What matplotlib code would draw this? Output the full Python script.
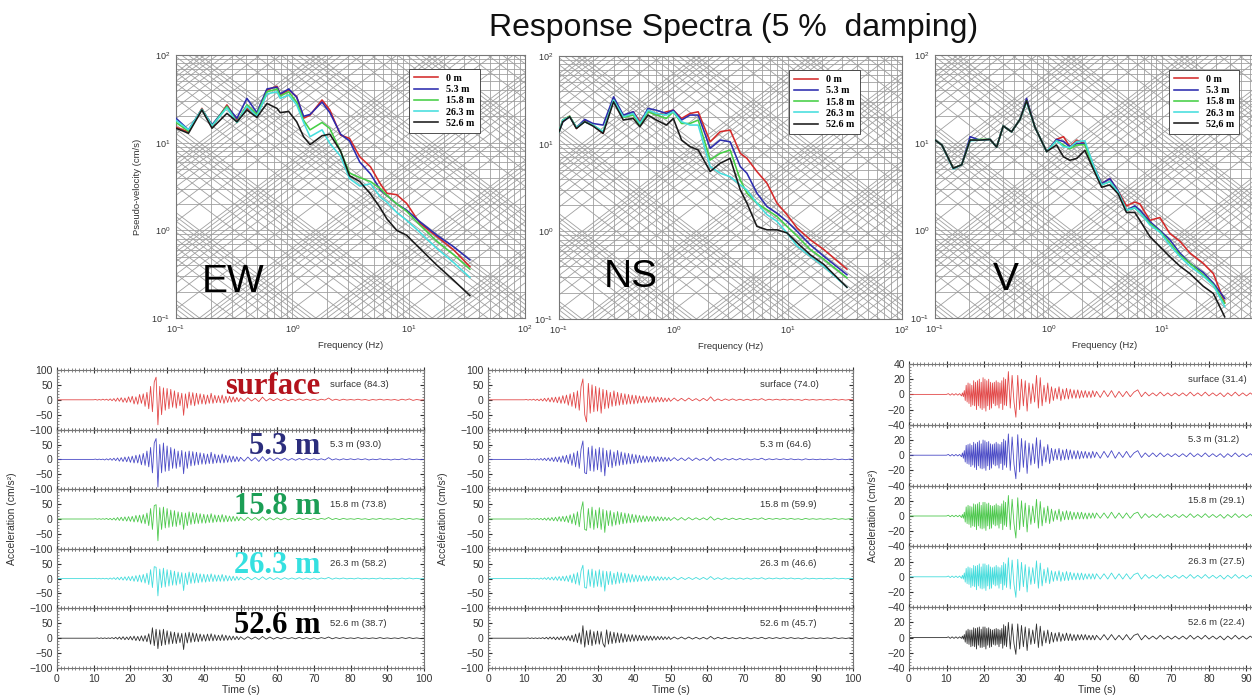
import numpy as np
import matplotlib
matplotlib.use('Agg')
import matplotlib.pyplot as plt
from matplotlib.collections import LineCollection
from matplotlib.ticker import MultipleLocator, FixedLocator, NullLocator, LogLocator

plt.rcParams['font.family'] = ['Liberation Sans', 'DejaVu Sans']

# ---------------- data: response spectra ----------------
depth_labels = ['0 m', '5.3 m', '15.8 m', '26.3 m', '52.6 m']
depth_labels_v = ['0 m', '5.3 m', '15.8 m', '26.3 m', '52,6 m']

ew_freq = [0.1, 0.128, 0.167, 0.204, 0.274, 0.334, 0.407, 0.496, 0.605, 0.738, 0.787, 0.93,
           1.09, 1.25, 1.42, 1.8, 2.1, 2.6, 3.1, 3.8, 4.7, 5.7, 6.5, 7.9, 9.6, 12.5, 17.5, 24.3, 33.6]
ew_psv_0 = [15.0, 13.3, 24.6, 15.0, 27.0, 18.0, 24.6, 21.0, 40.0, 44.0, 35.0, 40.0, 33.5, 19.0, 20.6,
            30.7, 23.6, 12.2, 11.2, 6.9, 5.3, 3.4, 2.65, 2.55, 2.03, 1.2, 0.85, 0.6, 0.385]
ew_psv_5 = [19.0, 14.0, 24.0, 16.0, 26.0, 19.0, 32.0, 22.0, 41.0, 43.0, 36.0, 41.0, 33.0, 20.0, 21.0,
            29.0, 22.0, 12.5, 10.5, 6.0, 4.4, 2.9, 2.5, 2.0, 1.7, 1.25, 0.88, 0.65, 0.46]
ew_psv_15 = [17.0, 13.5, 24.0, 15.5, 26.0, 17.0, 27.0, 21.0, 38.0, 41.0, 34.0, 38.0, 29.0, 18.0, 14.0,
             17.0, 14.5, 8.0, 4.5, 4.0, 3.6, 3.0, 2.5, 2.0, 1.65, 1.15, 0.75, 0.53, 0.36]
ew_psv_26 = [18.0, 14.0, 24.0, 15.5, 25.0, 17.0, 26.0, 20.0, 36.0, 38.0, 32.0, 35.0, 27.0, 17.0, 11.7,
             14.0, 9.8, 7.0, 3.9, 3.2, 3.4, 2.4, 2.1, 1.6, 1.3, 0.95, 0.62, 0.43, 0.29]
ew_psv_52 = [14.6, 12.8, 23.6, 14.6, 21.6, 17.3, 23.6, 19.4, 28.0, 24.6, 22.0, 22.7, 17.3, 11.7, 9.5,
             12.0, 12.5, 8.0, 4.2, 3.6, 2.6, 1.8, 1.35, 1.0, 0.88, 0.62, 0.40, 0.27, 0.18]

ns_freq = [0.1, 0.108, 0.124, 0.142, 0.168, 0.198, 0.243, 0.30, 0.365, 0.446, 0.51, 0.60, 0.71, 0.87,
           1.0, 1.18, 1.40, 1.65, 2.1, 2.57, 3.14, 3.85, 4.4, 5.38, 6.59, 8.06, 9.86, 12.1, 15.8, 20.7, 33.0]
ns_psv_0 = [13.7, 18.6, 20.6, 14.9, 18.6, 16.3, 13.1, 32.8, 20.3, 23.1, 17.8, 24.1, 21.2, 23.1, 24.1,
            19.4, 22.1, 23.1, 10.5, 13.7, 14.3, 7.76, 6.8, 4.81, 3.54, 2.1, 1.55, 1.09, 0.80, 0.62, 0.37]
ns_psv_5 = [13.7, 17.8, 20.3, 15.3, 18.9, 17.0, 16.3, 34.2, 21.2, 23.1, 17.0, 25.2, 24.1, 22.1, 24.1,
            18.6, 21.2, 21.2, 8.85, 11.0, 10.5, 5.48, 4.6, 2.73, 1.92, 1.61, 1.3, 1.0, 0.70, 0.52, 0.32]
ns_psv_15 = [13.7, 18.6, 20.6, 15.3, 17.8, 16.3, 13.7, 31.4, 19.9, 21.2, 16.3, 23.1, 21.2, 19.4, 23.1,
             17.0, 17.0, 18.6, 6.5, 7.76, 8.47, 3.86, 2.73, 2.1, 1.76, 1.48, 1.14, 0.88, 0.62, 0.48, 0.295]
ns_psv_26 = [13.7, 18.6, 20.3, 15.3, 17.8, 16.3, 13.7, 31.4, 20.3, 22.1, 17.0, 24.1, 22.1, 21.2, 23.1,
             17.8, 16.3, 16.3, 5.48, 4.6, 4.2, 3.39, 2.97, 2.1, 1.55, 1.3, 0.96, 0.68, 0.52, 0.40, 0.23]
ns_psv_52 = [13.7, 17.8, 20.3, 14.9, 17.8, 15.9, 13.1, 30.0, 18.6, 19.4, 15.6, 21.2, 18.6, 16.3, 19.4,
             11.0, 9.25, 8.47, 4.81, 5.98, 6.8, 2.97, 2.1, 1.14, 1.04, 1.04, 0.96, 0.74, 0.54, 0.42, 0.23]

v_freq = [0.1, 0.115, 0.145, 0.172, 0.204, 0.249, 0.306, 0.35, 0.40, 0.474, 0.563, 0.643, 0.762, 0.967,
          1.18, 1.36, 1.55, 1.78, 2.1, 2.49, 2.95, 3.49, 4.13, 4.89, 5.79, 6.42, 7.87, 9.65, 11.8, 14.5,
          17.8, 23.3, 28.6, 36.0]
v_psv_0 = [10.7, 9.4, 5.1, 5.6, 10.7, 10.7, 10.9, 8.9, 15.5, 13.3, 18.5, 31.2, 15.0, 7.9, 10.9, 11.7,
           9.0, 10.7, 9.8, 5.5, 3.4, 3.9, 2.8, 1.9, 2.1, 2.0, 1.3, 1.4, 0.92, 0.75, 0.55, 0.42, 0.32, 0.15]
v_psv_5 = [10.7, 9.4, 5.1, 5.6, 11.7, 10.7, 10.9, 8.9, 15.5, 13.3, 18.5, 32.0, 15.0, 7.9, 10.9, 10.3,
           9.0, 9.8, 9.8, 5.5, 3.4, 3.9, 2.8, 1.7, 1.9, 1.7, 1.26, 1.0, 0.78, 0.55, 0.42, 0.33, 0.25, 0.167]
v_psv_15 = [10.7, 9.4, 5.1, 5.6, 10.7, 10.9, 10.9, 8.9, 15.5, 13.3, 18.5, 30.0, 15.0, 7.9, 10.5, 9.4,
            8.5, 9.4, 9.5, 5.3, 3.3, 3.6, 2.7, 1.7, 1.8, 1.6, 1.2, 0.97, 0.72, 0.52, 0.42, 0.31, 0.24, 0.147]
v_psv_26 = [10.7, 9.4, 5.0, 5.6, 10.5, 10.7, 10.9, 8.9, 15.5, 13.3, 18.5, 29.0, 15.0, 7.9, 10.5, 9.0,
            8.8, 10.3, 10.5, 5.6, 3.3, 3.6, 2.7, 1.7, 1.8, 1.6, 1.15, 0.95, 0.68, 0.50, 0.39, 0.30, 0.235, 0.135]
v_psv_52 = [10.7, 9.4, 5.1, 5.6, 10.7, 10.7, 10.9, 8.9, 15.5, 13.3, 18.5, 30.0, 15.0, 7.9, 9.4, 6.9,
            6.3, 6.6, 8.2, 5.0, 3.1, 3.3, 2.6, 1.6, 1.6, 1.3, 0.85, 0.65, 0.50, 0.39, 0.32, 0.23, 0.19, 0.103]

# ---------------- data: acceleration time histories ----------------
trace_names = ['surface', '5.3 m', '15.8 m', '26.3 m', '52.6 m']
ew_pga = ['84.3', '93.0', '73.8', '58.2', '38.7']
ns_pga = ['74.0', '64.6', '59.9', '46.6', '45.7']
v_pga = ['31.4', '31.2', '29.1', '27.5', '22.4']

# sample times: 0 s, 10-49.5 s every 0.5 s, 50-100 s every 1 s
ew_time = np.concatenate([[0.0], np.arange(10.0, 50.0, 0.5), np.arange(50.0, 101.0, 1.0)])
ns_time = ew_time
# V: 0 s, 10-13.5 every 0.5, 14-25.75 every 0.25, 26-49.5 every 0.5, 50-100 every 1
v_time = np.concatenate([[0.0], np.arange(10.0, 14.0, 0.5), np.arange(14.0, 26.0, 0.25),
                         np.arange(26.0, 50.0, 0.5), np.arange(50.0, 101.0, 1.0)])

ew_acc_surface = [0,
    0, 1, -1, 1, -1, 2, -1, 2, -2, 3,
    -3, 4, -5, 6, -5, 7, -8, 6, -9, 10,
    -8, 12, -14, 10, -15, 18, -12, 20, -22, 25,
    -30, 45, -40, 60, 76, -84, 45, -50, 40, -35,
    38, -30, 35, -25, 30, -28, 25, -20, 22, -52,
    20, -28, 26, -18, 24, -20, 22, -15, 20, -14,
    18, -15, 16, -12, 22, -12, 15, -10, 14, -10,
    16, -12, 12, -9, 12, -8, 10, -7, 8, -6,
    6, -5, 7, -4, 5, -6, 9, -4, 4, -3,
    4, -3, 3, -3, 2, -2, 3, -2, 2, -2,
    2, -2, 2, -1, 6, -2, 2, -2, 2, -1,
    1, -1, 2, -1, 1, -2, 1, -1, 2, -1,
    1, -1, 1, -2, 2, -1, 3, -2, 1, -1, 0]
ew_acc_5 = [0,
    0, 1, -1, 1, -1, 1, -2, 2, -2, 3,
    -3, 4, -4, 5, -6, 6, -7, 8, -8, 9,
    -10, 11, -12, 14, -12, 16, -18, 20, -20, 28,
    -25, 40, -45, 55, 70, -93, 50, -45, 55, -40,
    45, -38, 40, -30, 35, -30, 28, -25, 30, -48,
    25, -30, 28, -22, 26, -20, 24, -18, 22, -16,
    20, -16, 18, -14, 24, -14, 18, -12, 15, -12,
    18, -12, 14, -10, 12, -9, 11, -8, 9, -7,
    7, -6, 8, -5, 6, -7, 9, -5, 5, -4,
    5, -3, 4, -3, 3, -3, 3, -2, 3, -2,
    2, -2, 2, -2, 6, -2, 2, -2, 2, -1,
    2, -1, 2, -1, 2, -2, 1, -1, 2, -1,
    1, -2, 1, -1, 2, -1, 2, -1, 1, -1, 0]
ew_acc_15 = [0,
    0, 1, -1, 1, -1, 1, -1, 2, -2, 2,
    -3, 3, -4, 5, -5, 6, -6, 7, -7, 8,
    -8, 9, -10, 12, -10, 13, -14, 15, -16, 20,
    -22, 35, -35, 45, 48, -73, 38, -35, 40, -30,
    35, -28, 30, -25, 28, -25, 24, -20, 22, -35,
    20, -22, 24, -18, 22, -16, 20, -15, 18, -14,
    16, -14, 15, -12, 18, -12, 14, -10, 13, -10,
    15, -10, 12, -9, 10, -8, 9, -7, 8, -6,
    6, -5, 6, -4, 5, -5, 7, -4, 4, -3,
    4, -3, 3, -3, 2, -2, 3, -2, 2, -2,
    2, -2, 2, -1, 5, -2, 2, -2, 2, -1,
    1, -1, 2, -1, 1, -2, 1, -1, 2, -1,
    1, -1, 1, -2, 2, -1, 2, -1, 1, -1, 0]
ew_acc_26 = [0,
    0, 1, -1, 1, -1, 1, -1, 1, -2, 2,
    -2, 3, -3, 4, -4, 5, -5, 6, -6, 7,
    -7, 8, -9, 10, -10, 12, -12, 14, -15, 18,
    -20, 30, -30, 40, 38, -58, 32, -30, 35, -28,
    30, -25, 28, -22, 25, -22, 22, -18, 20, -40,
    18, -20, 22, -16, 20, -15, 18, -14, 16, -12,
    15, -12, 14, -10, 16, -10, 13, -9, 12, -9,
    14, -9, 11, -8, 9, -7, 8, -6, 7, -5,
    5, -4, 5, -4, 4, -4, 6, -3, 4, -3,
    3, -3, 3, -2, 2, -2, 3, -2, 2, -2,
    2, -2, 2, -1, 4, -2, 2, -1, 2, -1,
    1, -1, 2, -1, 1, -1, 1, -1, 2, -1,
    1, -1, 1, -1, 2, -1, 2, -1, 1, -1, 0]
ew_acc_52 = [0,
    0, 0, 1, -1, 1, -1, 1, -1, 1, -1,
    2, -2, 3, -3, 4, -4, 5, -5, 4, -5,
    6, -6, 7, -8, 6, -9, 8, -10, 9, -12,
    15, -20, 35, -25, 30, -35, 28, -25, 30, -22,
    25, -20, 22, -18, 20, -18, 18, -15, 16, -38,
    18, -16, 20, -14, 18, -12, 16, -12, 14, -10,
    12, -10, 14, -9, 15, -9, 12, -8, 10, -8,
    12, -8, 10, -7, 8, -6, 7, -5, 6, -5,
    5, -4, 5, -3, 4, -4, 6, -3, 4, -3,
    3, -2, 3, -2, 2, -2, 3, -2, 2, -2,
    2, -2, 2, -1, 4, -2, 2, -1, 2, -1,
    1, -1, 2, -1, 1, -1, 1, -1, 2, -1,
    1, -1, 1, -1, 2, -1, 2, -1, 1, -1, 0]

ns_acc_surface = [0,
    0, 1, -1, 1, -1, 2, -2, 2, -3, 3,
    -4, 5, -5, 6, -7, 8, -8, 9, -10, 10,
    -12, 14, -12, 16, -18, 20, -22, 25, -28, 30,
    -35, 45, 70, -50, -74, 55, -45, 50, -40, 45,
    -38, 40, -45, 35, -30, 32, -28, 25, -22, 30,
    -20, 25, -18, 22, -16, 20, -15, 18, -14, 16,
    -14, 15, -12, 13, -10, 12, -10, 11, -9, 10,
    -9, 10, -8, 9, -7, 8, -7, 6, -6, 6,
    -5, 6, -4, 5, -4, 6, -3, 4, -4, 5,
    -3, 10, -4, 3, -3, 3, -2, 3, -2, 2,
    -2, 2, -2, 2, -1, 4, -2, 2, -1, 2,
    -1, 2, -1, 2, -1, 1, -2, 2, -1, 1,
    -1, 1, -1, 1, -1, 2, -1, 1, -1, 1, 0]
ns_acc_5 = [0,
    0, 1, -1, 1, -1, 1, -2, 2, -2, 3,
    -3, 4, -4, 5, -5, 6, -7, 8, -8, 9,
    -10, 12, -10, 14, -15, 18, -20, 22, -25, 28,
    -30, 35, 62, -45, -48, 40, -38, 45, -40, 35,
    -35, 40, -42, 38, -55, 30, -25, 32, -28, 25,
    -22, 30, -20, 25, -18, 22, -16, 20, -15, 18,
    -14, 16, -12, 14, -11, 12, -10, 11, -9, 10,
    -9, 10, -8, 9, -7, 8, -7, 7, -6, 6,
    -5, 6, -4, 5, -4, 6, -4, 5, -3, 4,
    -4, 8, -5, 3, -3, 3, -2, 3, -2, 3,
    -2, 2, -2, 2, -1, 4, -2, 2, -1, 2,
    -1, 2, -1, 2, -1, 1, -2, 2, -1, 1,
    -1, 1, -1, 1, -1, 2, -1, 1, -1, 1, 0]
ns_acc_15 = [0,
    0, 1, -1, 1, -1, 1, -1, 2, -2, 2,
    -3, 3, -4, 4, -5, 5, -6, 6, -7, 8,
    -8, 9, -9, 10, -12, 14, -16, 18, -20, 24,
    -26, 30, 58, -35, -38, 35, -30, 40, -35, 30,
    -30, 38, -35, 32, -45, 28, -22, 28, -24, 22,
    -20, 25, -18, 22, -16, 20, -14, 18, -13, 16,
    -12, 14, -11, 12, -10, 11, -9, 10, -8, 9,
    -8, 9, -7, 8, -6, 7, -6, 6, -5, 5,
    -5, 5, -4, 5, -4, 5, -3, 4, -3, 4,
    -3, 8, -4, 3, -3, 3, -2, 3, -2, 2,
    -2, 2, -2, 2, -1, 4, -2, 2, -1, 2,
    -1, 2, -1, 2, -1, 1, -2, 2, -1, 1,
    -1, 1, -1, 1, -1, 2, -1, 1, -1, 1, 0]
ns_acc_26 = [0,
    0, 1, -1, 1, -1, 1, -1, 1, -2, 2,
    -2, 3, -3, 4, -4, 5, -5, 6, -6, 7,
    -7, 8, -8, 9, -10, 12, -14, 16, -18, 20,
    -22, 26, 45, -30, -32, 30, -26, 32, -30, 26,
    -26, 30, -28, 26, -42, 24, -20, 24, -20, 18,
    -18, 22, -16, 20, -14, 18, -13, 16, -12, 14,
    -11, 12, -10, 11, -9, 10, -8, 9, -8, 8,
    -7, 8, -6, 7, -6, 6, -5, 5, -5, 5,
    -4, 5, -4, 4, -3, 4, -3, 4, -3, 4,
    -3, 7, -3, 3, -3, 3, -2, 2, -2, 2,
    -2, 2, -2, 2, -1, 3, -2, 2, -1, 2,
    -1, 2, -1, 2, -1, 1, -2, 2, -1, 1,
    -1, 1, -1, 1, -1, 2, -1, 1, -1, 1, 0]
ns_acc_52 = [0,
    0, 0, 1, -1, 1, -1, 1, -1, 1, -1,
    2, -2, 3, -3, 4, -3, 4, -5, 4, -5,
    5, -6, 6, -7, 8, -9, 10, -12, 14, -15,
    18, -20, 42, -30, 25, -22, 28, -25, 22, -20,
    24, -20, 22, -18, -30, 28, -20, 22, -18, 20,
    -16, 18, -15, 16, -14, 14, -12, 12, -11, 12,
    -10, 11, -9, 10, -8, 9, -8, 8, -7, 7,
    -7, 7, -6, 6, -5, 6, -5, 5, -4, 5,
    -4, 4, -3, 4, -3, 4, -3, 3, -3, 3,
    -3, 6, -3, 3, -2, 3, -2, 2, -2, 2,
    -2, 2, -2, 2, -1, 3, -2, 2, -1, 2,
    -1, 2, -1, 2, -1, 1, -2, 2, -1, 1,
    -1, 1, -1, 1, -1, 2, -1, 1, -1, 1, 0]

v_acc_surface = [0,
    0, 1, -1, 1, -1, 1, -1, 1,
    -2, 2, -3, 5, -8, 12, -10, 15, -12, 14, -16, 12,
    -14, 18, -15, 16, -20, 18, -15, 20, -18, 16, -20, 22,
    -18, 20, -22, 18, -15, 20, -20, 16, -18, 15, -12, 16,
    -15, 18, -14, 16, -18, 15, -12, 18, -20, 22, -14, 20,
    -15, 30, -18, 25, -10, -30, 25, -20,
    20, -15, 18, -22, 15, -12, 14, -10, 25, -18,
    22, -15, 12, -10, 15, -12, 10, -8, 8, -6,
    10, -8, 7, -6, 8, -6, 7, -5, 6, -5,
    6, -5, 5, -4, 5, -4, 4, -4, 5, -3,
    4, -4, 5, -3, 5, -4, 4, -3, 4, -3,
    3, 6, -3, 3, -2, 2, -2, 3, -2, 2,
    -2, 2, -2, 2, -2, 3, -2, 2, -2, 3,
    -2, 2, -2, 2, -3, 2, -2, 3, -2, 2,
    -2, 2, -2, 2, -2, 3, -2, 2, -2, 2, 0]
v_acc_5 = [0,
    0, 1, -1, 1, -1, 1, -1, 1,
    -2, 3, -4, 6, -9, 13, -11, 14, -12, 15, -15, 13,
    -13, 17, -16, 15, -19, 17, -14, 19, -17, 15, -18, 20,
    -17, 19, -20, 17, -14, 18, -19, 15, -17, 14, -12, 15,
    -14, 17, -13, 15, -17, 14, -11, 17, -19, 21, -13, 19,
    -16, 28, -20, 24, -12, -31, 27, -22,
    22, -16, 19, -24, 16, -13, 15, -11, 23, -17,
    20, -14, 11, -9, 14, -11, 9, -7, 8, -6,
    9, -7, 7, -6, 8, -6, 7, -5, 6, -5,
    6, -5, 5, -4, 5, -4, 4, -4, 5, -3,
    4, -4, 5, -3, 6, -4, 4, -3, 5, -3,
    3, 6, -3, 3, -2, 3, -2, 3, -2, 2,
    -2, 2, -2, 2, -2, 3, -2, 2, -2, 3,
    -2, 2, -2, 2, -3, 2, -2, 3, -2, 2,
    -2, 2, -2, 2, -2, 3, -2, 2, -2, 2, 0]
v_acc_15 = [0,
    0, 1, -1, 1, -1, 1, -1, 1,
    -2, 2, -3, 5, -8, 12, -10, 14, -11, 13, -15, 12,
    -13, 16, -14, 15, -18, 16, -13, 18, -16, 14, -17, 18,
    -16, 18, -19, 16, -13, 17, -17, 14, -16, 13, -11, 14,
    -13, 16, -12, 14, -16, 13, -10, 16, -18, 20, -12, 18,
    -14, 27, -18, 22, -10, -29, 24, -18,
    20, -14, 17, -21, 14, -11, 13, -9, 22, -16,
    19, -13, 11, -9, 13, -10, 9, -7, 7, -5,
    9, -7, 6, -5, 7, -5, 6, -5, 5, -4,
    5, -4, 5, -4, 4, -4, 4, -3, 4, -3,
    4, -3, 4, -3, 5, -3, 4, -3, 4, -3,
    3, 5, -3, 3, -2, 2, -2, 3, -2, 2,
    -2, 2, -2, 2, -2, 3, -2, 2, -2, 3,
    -2, 2, -2, 2, -3, 2, -2, 3, -2, 2,
    -2, 2, -2, 2, -2, 3, -2, 2, -2, 2, 0]
v_acc_26 = [0,
    0, 1, -1, 1, -1, 1, -1, 1,
    -2, 2, -3, 5, -7, 11, -9, 13, -10, 12, -14, 11,
    -12, 15, -13, 14, -17, 15, -12, 17, -15, 13, -16, 17,
    -15, 17, -18, 15, -12, 16, -16, 13, -15, 12, -10, 13,
    -12, 15, -11, 13, -15, 12, -9, 15, -17, 19, -11, 17,
    -14, 25, -16, 22, -10, -27, 23, -18,
    19, -13, 16, -20, 13, -10, 12, -9, 21, -15,
    18, -12, 10, -8, 12, -9, 8, -6, 7, -5,
    8, -6, 6, -5, 7, -5, 6, -4, 5, -4,
    5, -4, 5, -4, 4, -3, 4, -3, 4, -3,
    4, -3, 4, -3, 5, -3, 4, -3, 4, -3,
    3, 5, -3, 3, -2, 2, -2, 3, -2, 2,
    -2, 2, -2, 2, -2, 3, -2, 2, -2, 3,
    -2, 2, -2, 2, -3, 2, -2, 3, -2, 2,
    -2, 2, -2, 2, -2, 3, -2, 2, -2, 2, 0]
v_acc_52 = [0,
    0, 1, -1, 1, -1, 1, -1, 1,
    -1, 2, -2, 4, -6, 9, -8, 11, -9, 10, -12, 10,
    -11, 13, -12, 12, -15, 13, -10, 14, -13, 11, -13, 14,
    -12, 14, -15, 12, -10, 13, -13, 11, -12, 10, -9, 11,
    -10, 12, -9, 11, -12, 10, -8, 12, -14, 17, -10, 15,
    -12, 20, -15, 18, -8, -22, 18, -15,
    16, -12, 14, -17, 12, -9, 10, -8, 18, -13,
    15, -11, 9, -7, 10, -8, 7, -6, 6, -5,
    7, -5, 5, -4, 6, -4, 5, -4, 4, -4,
    4, -3, 4, -3, 4, -3, 3, -3, 3, -3,
    3, -3, 4, -3, 4, -3, 3, -3, 4, -3,
    3, 5, -3, 3, -2, 2, -2, 3, -2, 2,
    -2, 2, -2, 2, -2, 3, -2, 2, -2, 3,
    -2, 2, -2, 2, -3, 2, -2, 3, -2, 2,
    -2, 2, -2, 2, -2, 3, -2, 2, -2, 2, 0]

# ---------------- styling ----------------
spec_colors = ['#d42a2a', '#2c2cae', '#45cf45', '#45dede', '#1a1a1a']
trace_colors = ['#e24848', '#4a4ac6', '#4cc84c', '#44dcdc', '#303030']
big_colors = ['#b3121c', '#2b2d7c', '#1b9e55', '#35e0e0', '#000000']

W, H = 1252, 696
fig = plt.figure(figsize=(W / 100, H / 100), dpi=100)
fig.patch.set_facecolor('white')


def fx(px):
    return px / W


def fy(py):
    return 1 - py / H


def tripartite_axes(left, right, top, bottom, xticks):
    ax = fig.add_axes([fx(left), fy(bottom), fx(right - left), (bottom - top) / H])
    ax.set_xscale('log')
    ax.set_yscale('log')
    segs = []
    for n in range(-1, 2):
        for k in range(1, 10):
            val = k * 10.0 ** n
            segs.append([(val, 0.1), (val, 100)])
            segs.append([(0.1, val), (100, val)])
    ax.add_collection(LineCollection(segs, colors='#a0a0a0', linewidths=0.6, zorder=1))
    diag = []
    f0, f1 = 0.1, 100.0
    for n in range(-5, 4):
        for k in range(1, 10):
            D = k * 10.0 ** n
            diag.append([(f0, 2 * np.pi * f0 * D), (f1, 2 * np.pi * f1 * D)])
    for n in range(-3, 6):
        for k in range(1, 10):
            A = k * 10.0 ** n
            diag.append([(f0, A / (2 * np.pi * f0)), (f1, A / (2 * np.pi * f1))])
    ax.add_collection(LineCollection(diag, colors='#a0a0a0', linewidths=0.6, zorder=1))
    ax.set_xlim(0.1, 100)
    ax.set_ylim(0.1, 100)
    ax.xaxis.set_major_locator(FixedLocator(xticks))
    ax.yaxis.set_major_locator(LogLocator(base=10, numticks=10))
    ax.xaxis.set_minor_locator(NullLocator())
    ax.yaxis.set_minor_locator(NullLocator())
    ax.tick_params(which='both', length=0, labelsize=6.5, colors='#333333', pad=4)
    for s in ax.spines.values():
        s.set_color('#777777')
        s.set_linewidth(0.8)
    ax.set_xlabel('Frequency (Hz)', fontsize=6.8, color='#333333', labelpad=4)
    return ax


spec_sets = [
    (176, 525, 55, 318, ew_freq, [ew_psv_0, ew_psv_5, ew_psv_15, ew_psv_26, ew_psv_52], 'EW',
     (0.885, 0.966), (0.074, 0.10), depth_labels, [0.1, 1, 10, 100]),
    (559, 902, 56, 319, ns_freq, [ns_psv_0, ns_psv_5, ns_psv_15, ns_psv_26, ns_psv_52], 'NS',
     (0.892, 0.965), (0.131, 0.12), depth_labels, [0.1, 1, 10, 100]),
    (935, 1275, 55, 318, v_freq, [v_psv_0, v_psv_5, v_psv_15, v_psv_26, v_psv_52], 'V',
     (0.91, 0.962), (0.17, 0.106), depth_labels_v, [0.1, 1, 10]),
]

for i, (l, r, t, b, freq, series, name, leg_anchor, name_pos, labels, xt) in enumerate(spec_sets):
    ax = tripartite_axes(l, r, t, b, xt)
    for s, col, lab in zip(series, spec_colors, labels):
        ax.plot(freq, s, color=col, lw=1.15, label=lab, zorder=3)
    leg = ax.legend(loc='upper right', bbox_to_anchor=leg_anchor, fancybox=False, framealpha=1,
                    edgecolor='#333333', handlelength=2.4, handletextpad=0.8, borderpad=0.5,
                    labelspacing=0.22, prop={'family': 'Liberation Serif', 'weight': 'bold', 'size': 7.2})
    leg.get_frame().set_linewidth(0.6)
    leg.set_zorder(5)
    ax.text(name_pos[0], name_pos[1], name, transform=ax.transAxes, fontsize=28, color='black',
            ha='left', va='baseline', zorder=6)
    if i == 0:
        ax.set_ylabel('Pseudo-velocity (cm/s)', fontsize=6.8, color='#333333', labelpad=7)

fig.text(fx(734), fy(28), 'Response Spectra (5 %  damping)', ha='center', va='center', fontsize=23,
         color='#111111')


def trace_panel(left, right, top, bottom, t, traces, lim, step, pgas, ylabel, ylabel_x, xticks, big=False):
    n = len(traces)
    h = (bottom - top) / n
    for i, (tr, col) in enumerate(zip(traces, trace_colors)):
        y_top = top + i * h
        ax = fig.add_axes([fx(left), fy(y_top + h), fx(right - left), h / H])
        ax.patch.set_visible(False)
        m = min(len(t), len(tr))
        ax.plot(t[:m], tr[:m], color=col, lw=0.6)
        ax.set_xlim(0, 100)
        ax.set_ylim(-lim, lim)
        ticks = [-lim, -step, 0, step, lim]
        ax.yaxis.set_major_locator(FixedLocator(ticks))
        labs = ['\u2212%d' % lim, '\u2212%d' % step, '0', '%d' % step, '%d' % lim if i == 0 else '']
        ax.set_yticklabels(labs)
        ax.yaxis.set_minor_locator(MultipleLocator(lim / 10))
        ax.xaxis.set_major_locator(FixedLocator(xticks))
        ax.xaxis.set_minor_locator(MultipleLocator(1))
        ax.tick_params(axis='y', which='major', direction='in', length=3, left=True, right=True,
                       labelsize=7.5, colors='#333333', pad=3)
        ax.tick_params(axis='y', which='minor', direction='in', length=1.5, left=True, right=True,
                       colors='#777777')
        ax.tick_params(axis='x', which='major', direction='inout', length=4, top=True, bottom=True,
                       labelsize=7.5, colors='#333333', pad=2)
        ax.tick_params(axis='x', which='minor', direction='inout', length=2.5, top=True, bottom=True,
                       colors='#777777')
        for s in ax.spines.values():
            s.set_color('#777777')
            s.set_linewidth(0.8)
        if i < n - 1:
            ax.set_xticklabels([])
        ax.text(74.5, 0.5 * lim, '%s (%s)' % (trace_names[i], pgas[i]), fontsize=6.8,
                color='#333333', ha='left', va='center')
        if big:
            ax.text(71.8, 0.18 * lim, trace_names[i], fontsize=22, color=big_colors[i],
                    family='Liberation Serif', weight='bold', ha='right', va='baseline', zorder=6)
    fig.text(fx(ylabel_x), fy((top + bottom) / 2), ylabel, rotation=90, ha='center', va='center',
             fontsize=7.5, color='#333333')
    fig.text(fx((left + right) / 2), fy(690), 'Time (s)', ha='center', va='center', fontsize=7.5,
             color='#333333')


full_ticks = [0, 10, 20, 30, 40, 50, 60, 70, 80, 90, 100]
trace_panel(57, 424, 370, 668, ew_time,
            [ew_acc_surface, ew_acc_5, ew_acc_15, ew_acc_26, ew_acc_52], 100, 50, ew_pga,
            'Acceleration (cm/s\u00b2)', 12, full_ticks, big=True)
trace_panel(488, 853, 370, 668, ns_time,
            [ns_acc_surface, ns_acc_5, ns_acc_15, ns_acc_26, ns_acc_52], 100, 50, ns_pga,
            'Acc\u00e9l\u00e9ration (cm/s\u00b2)', 443, full_ticks)
trace_panel(909, 1284, 364, 668, v_time,
            [v_acc_surface, v_acc_5, v_acc_15, v_acc_26, v_acc_52], 40, 20, v_pga,
            'Acceleration (cm/s\u00b2)', 873, full_ticks[:-1])

fig.savefig('out.png', dpi=100, facecolor='white')
